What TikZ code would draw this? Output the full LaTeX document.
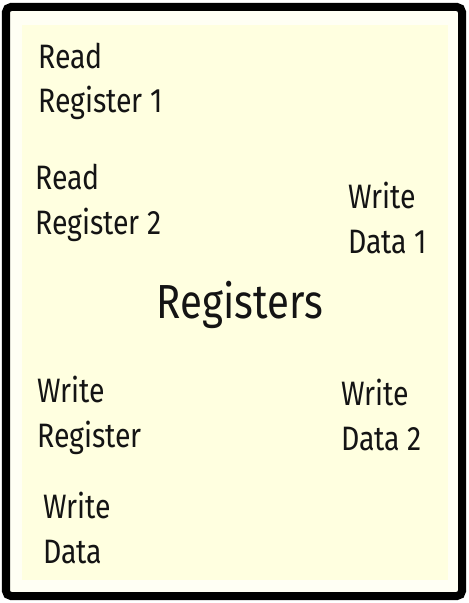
\documentclass[tikz,border=0pt]{standalone}
\usepackage{fontspec}
\setmainfont[FakeStretch=0.84]{Fira Sans}
\begin{document}
\begin{tikzpicture}[x=1bp,y=-1bp,
  lbl/.style={anchor=base west,inner sep=0pt,align=left,font=\fontsize{34}{45}\selectfont,text=black!92},
  title/.style={anchor=base,inner sep=0pt,font=\fontsize{48}{56}\selectfont,text=black!92}]
\useasboundingbox (0,0) rectangle (469,603);
\definecolor{bandcol}{HTML}{FFFFF4}
\definecolor{innercol}{HTML}{FFFFE0}
\draw[line width=8bp,fill=bandcol,rounded corners=5bp] (6,7) rectangle (462,596);
\fill[innercol] (22,25) rectangle (448,580);
\node[lbl] (rr1) at (38,113) {Read\\Register 1};
\node[lbl] (rr2) at (35,234) {Read\\Register 2};
\node[lbl] (wd1) at (348,253) {Write\\Data 1};
\node[title] (reg) at (240,318) {Registers};
\node[lbl] (wr) at (37,447) {Write\\Register};
\node[lbl] (wd2) at (341,450) {Write\\Data 2};
\node[lbl] (wd) at (43,563) {Write\\Data};
\end{tikzpicture}
\end{document}
